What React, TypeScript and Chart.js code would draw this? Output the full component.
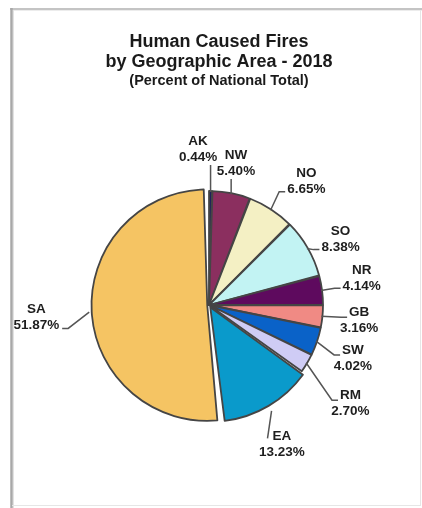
import React, { useEffect, useRef } from 'react';
import { Chart, registerables } from 'chart.js';

Chart.register(...registerables);

const categories = ['AK', 'NW', 'NO', 'SO', 'NR', 'GB', 'SW', 'RM', 'EA', 'SA'];
const percents = [0.44, 5.4, 6.65, 8.38, 4.14, 3.16, 4.02, 2.7, 13.23, 51.87];
const titleLines = ['Human Caused Fires', 'by Geographic Area - 2018'];
const subtitleText = '(Percent of National Total)';

const sliceColors = [
  '#1f1f5c', '#8b2f5f', '#f4f0c4', '#c2f3f3', '#5e0a5e',
  '#f08a84', '#0a62c8', '#cfccf5', '#0a9acb', '#f5c463',
];
const sliceOffsets = [0, 0, 0, 0, 0, 0, 0, 0, 10, 7];

// label placement tweaks (style only): nudge from default radial spot, and leader attach type
const labelNudge: Record<string, [number, number]> = {
  AK: [-13, -3], NW: [-3, 8], NO: [14, 5], SO: [-1, 11], NR: [1, -7],
  GB: [-2, 0], SW: [-1, 4], RM: [10, 20], EA: [-10, -1], SA: [-13, 3],
};
const leaderType: Record<string, string> = {
  AK: 'up', NW: 'up', NO: 'l2', SO: 'l2', NR: 'l2',
  GB: 'l1', SW: 'l1', RM: 'l1', EA: 'ea', SA: 'r2',
};

const FONT = '"Liberation Sans", Arial, Helvetica, sans-serif';

const framePlugin = {
  id: 'frame',
  beforeDraw(chart: any) {
    const ctx = chart.ctx;
    ctx.save();
    ctx.fillStyle = '#ffffff';
    ctx.fillRect(0, 0, chart.width, chart.height);
    ctx.lineCap = 'butt';
    ctx.strokeStyle = '#c4c4c4';
    ctx.lineWidth = 2;
    ctx.beginPath(); ctx.moveTo(10, 9); ctx.lineTo(422, 9); ctx.stroke();
    ctx.strokeStyle = '#ececec';
    ctx.lineWidth = 1;
    ctx.beginPath(); ctx.moveTo(13, 10.5); ctx.lineTo(422, 10.5); ctx.stroke();
    ctx.strokeStyle = '#a8a8a8';
    ctx.lineWidth = 2.5;
    ctx.beginPath(); ctx.moveTo(11.5, 8); ctx.lineTo(11.5, 508); ctx.stroke();
    ctx.strokeStyle = '#e2e2e2';
    ctx.lineWidth = 1;
    ctx.beginPath(); ctx.moveTo(13.5, 10); ctx.lineTo(13.5, 508); ctx.stroke();
    ctx.strokeStyle = '#e6e6e6';
    ctx.beginPath(); ctx.moveTo(420.5, 10); ctx.lineTo(420.5, 505); ctx.stroke();
    ctx.beginPath(); ctx.moveTo(12, 505.5); ctx.lineTo(421, 505.5); ctx.stroke();
    ctx.restore();
  },
};

const titlePlugin = {
  id: 'titleText',
  afterDraw(chart: any) {
    const ctx = chart.ctx;
    ctx.save();
    ctx.fillStyle = '#1a1a1a';
    ctx.textAlign = 'center';
    ctx.textBaseline = 'middle';
    ctx.font = `bold 18px ${FONT}`;
    ctx.fillText(titleLines[0], 219, 42);
    ctx.fillText(titleLines[1], 219, 62);
    ctx.font = `bold 14.5px ${FONT}`;
    ctx.fillText(subtitleText, 219, 81);
    ctx.restore();
  },
};

const labelPlugin = {
  id: 'sliceLabels',
  afterDatasetsDraw(chart: any) {
    const ctx = chart.ctx;
    const meta = chart.getDatasetMeta(0);
    ctx.save();
    ctx.font = `bold 13.5px ${FONT}`;
    ctx.textAlign = 'center';
    ctx.textBaseline = 'middle';
    meta.data.forEach((arc: any, i: number) => {
      const p = arc.getProps(['x', 'y', 'startAngle', 'endAngle', 'outerRadius'], true);
      const cat = categories[i];
      const mid = (p.startAngle + p.endAngle) / 2;
      const off = sliceOffsets[i];
      const cx = p.x + Math.cos(mid) * off;
      const cy = p.y + Math.sin(mid) * off;
      const ex = cx + Math.cos(mid) * p.outerRadius;
      const ey = cy + Math.sin(mid) * p.outerRadius;
      const [nx, ny] = labelNudge[cat];
      const lx = cx + Math.cos(mid) * (p.outerRadius + 40) + nx;
      const ly = cy + Math.sin(mid) * (p.outerRadius + 40) + ny;
      const l1 = cat;
      const l2 = percents[i].toFixed(2) + '%';
      const y1 = ly - 8;
      const y2 = ly + 8;
      const w1 = ctx.measureText(l1).width;
      const w2 = ctx.measureText(l2).width;

      const pts: [number, number][] = [[ex, ey]];
      const t = leaderType[cat];
      if (t === 'up') {
        pts.push([ex, y2 + 8]);
      } else if (t === 'l2') {
        const endX = lx - w2 / 2 - 2;
        pts.push([endX - 6, y2 + 2], [endX, y2 + 2]);
      } else if (t === 'l1') {
        const endX = lx - w1 / 2 - 2;
        pts.push([endX - 6, y1 + 5], [endX, y1 + 5]);
      } else if (t === 'ea') {
        pts.push([lx - w1 / 2 - 5, y1 + 2]);
      } else if (t === 'r2') {
        const endX = lx + w2 / 2 + 3;
        pts.push([endX + 6, y2 + 3], [endX, y2 + 3]);
      }
      ctx.strokeStyle = '#555555';
      ctx.lineWidth = 1.5;
      ctx.beginPath();
      pts.forEach(([px, py], k) => (k === 0 ? ctx.moveTo(px, py) : ctx.lineTo(px, py)));
      ctx.stroke();

      ctx.fillStyle = '#1e1e1e';
      ctx.fillText(l1, lx, y1);
      ctx.fillText(l2, lx, y2);
    });
    ctx.restore();
  },
};

export default function App() {
  const ref = useRef<HTMLCanvasElement>(null);
  useEffect(() => {
    const canvas = ref.current;
    if (!canvas) return;
    const chart = new Chart(canvas, {
      type: 'pie',
      data: {
        labels: categories,
        datasets: [
          {
            data: percents,
            backgroundColor: sliceColors,
            borderColor: '#454545',
            borderWidth: 1.8,
            borderJoinStyle: 'round',
            offset: sliceOffsets,
            spacing: 2,
            hoverOffset: 0,
            radius: 113,
          } as any,
        ],
      },
      options: {
        responsive: false,
        animation: false,
        devicePixelRatio: 1,
        rotation: 0,
        events: [],
        layout: { padding: { left: 40, right: 44, top: 110, bottom: 8 } },
        plugins: {
          legend: { display: false },
          tooltip: { enabled: false },
          title: { display: false },
        },
      } as any,
      plugins: [framePlugin, titlePlugin, labelPlugin],
    });
    return () => chart.destroy();
  }, []);
  return (
    <div style={{ position: 'absolute', left: 0, top: 0, width: 422, height: 508 }}>
      <canvas ref={ref} width={422} height={508} style={{ display: 'block', width: 422, height: 508 }} />
    </div>
  );
}
